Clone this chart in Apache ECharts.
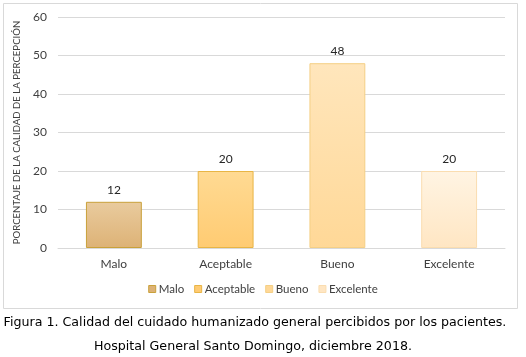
<!DOCTYPE html>
<html><head><meta charset="utf-8">
<script src="https://cdn.jsdelivr.net/npm/echarts@6/dist/echarts.min.js"></script>
<style>html,body{margin:0;padding:0;background:#fff}#c{width:526px;height:357px}</style>
</head><body><div id="c"></div>
<script>
var categories = ['Malo', 'Aceptable', 'Bueno', 'Excelente'];
var values = [12, 20, 48, 20];
var yTicks = [0, 10, 20, 30, 40, 50, 60];
var yName = 'PORCENTAJE DE LA CALIDAD DE LA PERCEPCIÓN';
var captionLines = ['Figura 1. Calidad del cuidado humanizado general percibidos por los pacientes.', 'Hospital General Santo Domingo, diciembre 2018.'];

var fills = [
  ['#E9CB9E', '#DDB276', '#C9A13A'],
  ['#FFDA93', '#FFCB72', '#E8B545'],
  ['#FFE6BC', '#FFD897', '#F4CF85'],
  ['#FFF4E3', '#FFE6C3', '#FADDB0']
];
var font = 'Lato, "Open Sans", sans-serif';
var series = categories.map(function (name, i) {
  return {
    name: name, type: 'bar', stack: 'all', barWidth: '50%',
    data: categories.map(function (c, j) { return j === i ? values[i] : '-'; }),
    itemStyle: {
      color: new echarts.graphic.LinearGradient(0, 0, 0, 1, [{offset: 0, color: fills[i][0]}, {offset: 1, color: fills[i][1]}]),
      borderColor: fills[i][2], borderWidth: 1
    },
    label: {show: true, position: 'top', color: '#262626', fontSize: 12, fontFamily: font, distance: 6},
    emphasis: {disabled: true}
  };
});
var chart = echarts.init(document.getElementById('c'));
chart.setOption({
  animation: false,
  grid: {left: 58, right: 21, top: 17, bottom: 109, containLabel: false},
  legend: {
    data: categories.map(function (c, i) { return {name: c, itemStyle: {color: fills[i][1], borderColor: fills[i][2], borderWidth: 1}}; }),
    bottom: 57, left: 'center', itemWidth: 7, itemHeight: 7, itemGap: 10,
    icon: 'rect',
    textStyle: {color: '#404040', fontSize: 11.5, fontFamily: font, padding: [0, 0, 0, -2]}
  },
  xAxis: {
    type: 'category', data: categories,
    axisLine: {lineStyle: {color: '#D9D9D9'}}, axisTick: {show: false},
    axisLabel: {color: '#404040', fontSize: 12, fontFamily: font, margin: 10}
  },
  yAxis: {
    type: 'value', min: yTicks[0], max: yTicks[yTicks.length - 1], interval: yTicks[1] - yTicks[0],
    name: yName, nameLocation: 'middle', nameGap: 31,
    nameTextStyle: {color: '#404040', fontSize: 9.6, fontFamily: font},
    axisLine: {show: false}, axisTick: {show: false},
    axisLabel: {color: '#404040', fontSize: 12, fontFamily: font, margin: 11},
    splitLine: {lineStyle: {color: '#D9D9D9'}}
  },
  graphic: [
    {type: 'rect', shape: {x: 3.5, y: 3.5, width: 514, height: 305}, style: {fill: 'none', stroke: '#D9D9D9', lineWidth: 1}, z: -1},
    {type: 'text', x: 255, y: 323, style: {text: captionLines[0], font: '12.65px "DejaVu Sans", Verdana, sans-serif', fill: '#000', align: 'center', verticalAlign: 'middle'}},
    {type: 'text', x: 253, y: 347, style: {text: captionLines[1], font: '12.65px "DejaVu Sans", Verdana, sans-serif', fill: '#000', align: 'center', verticalAlign: 'middle'}}
  ],
  series: series
});
</script></body></html>
